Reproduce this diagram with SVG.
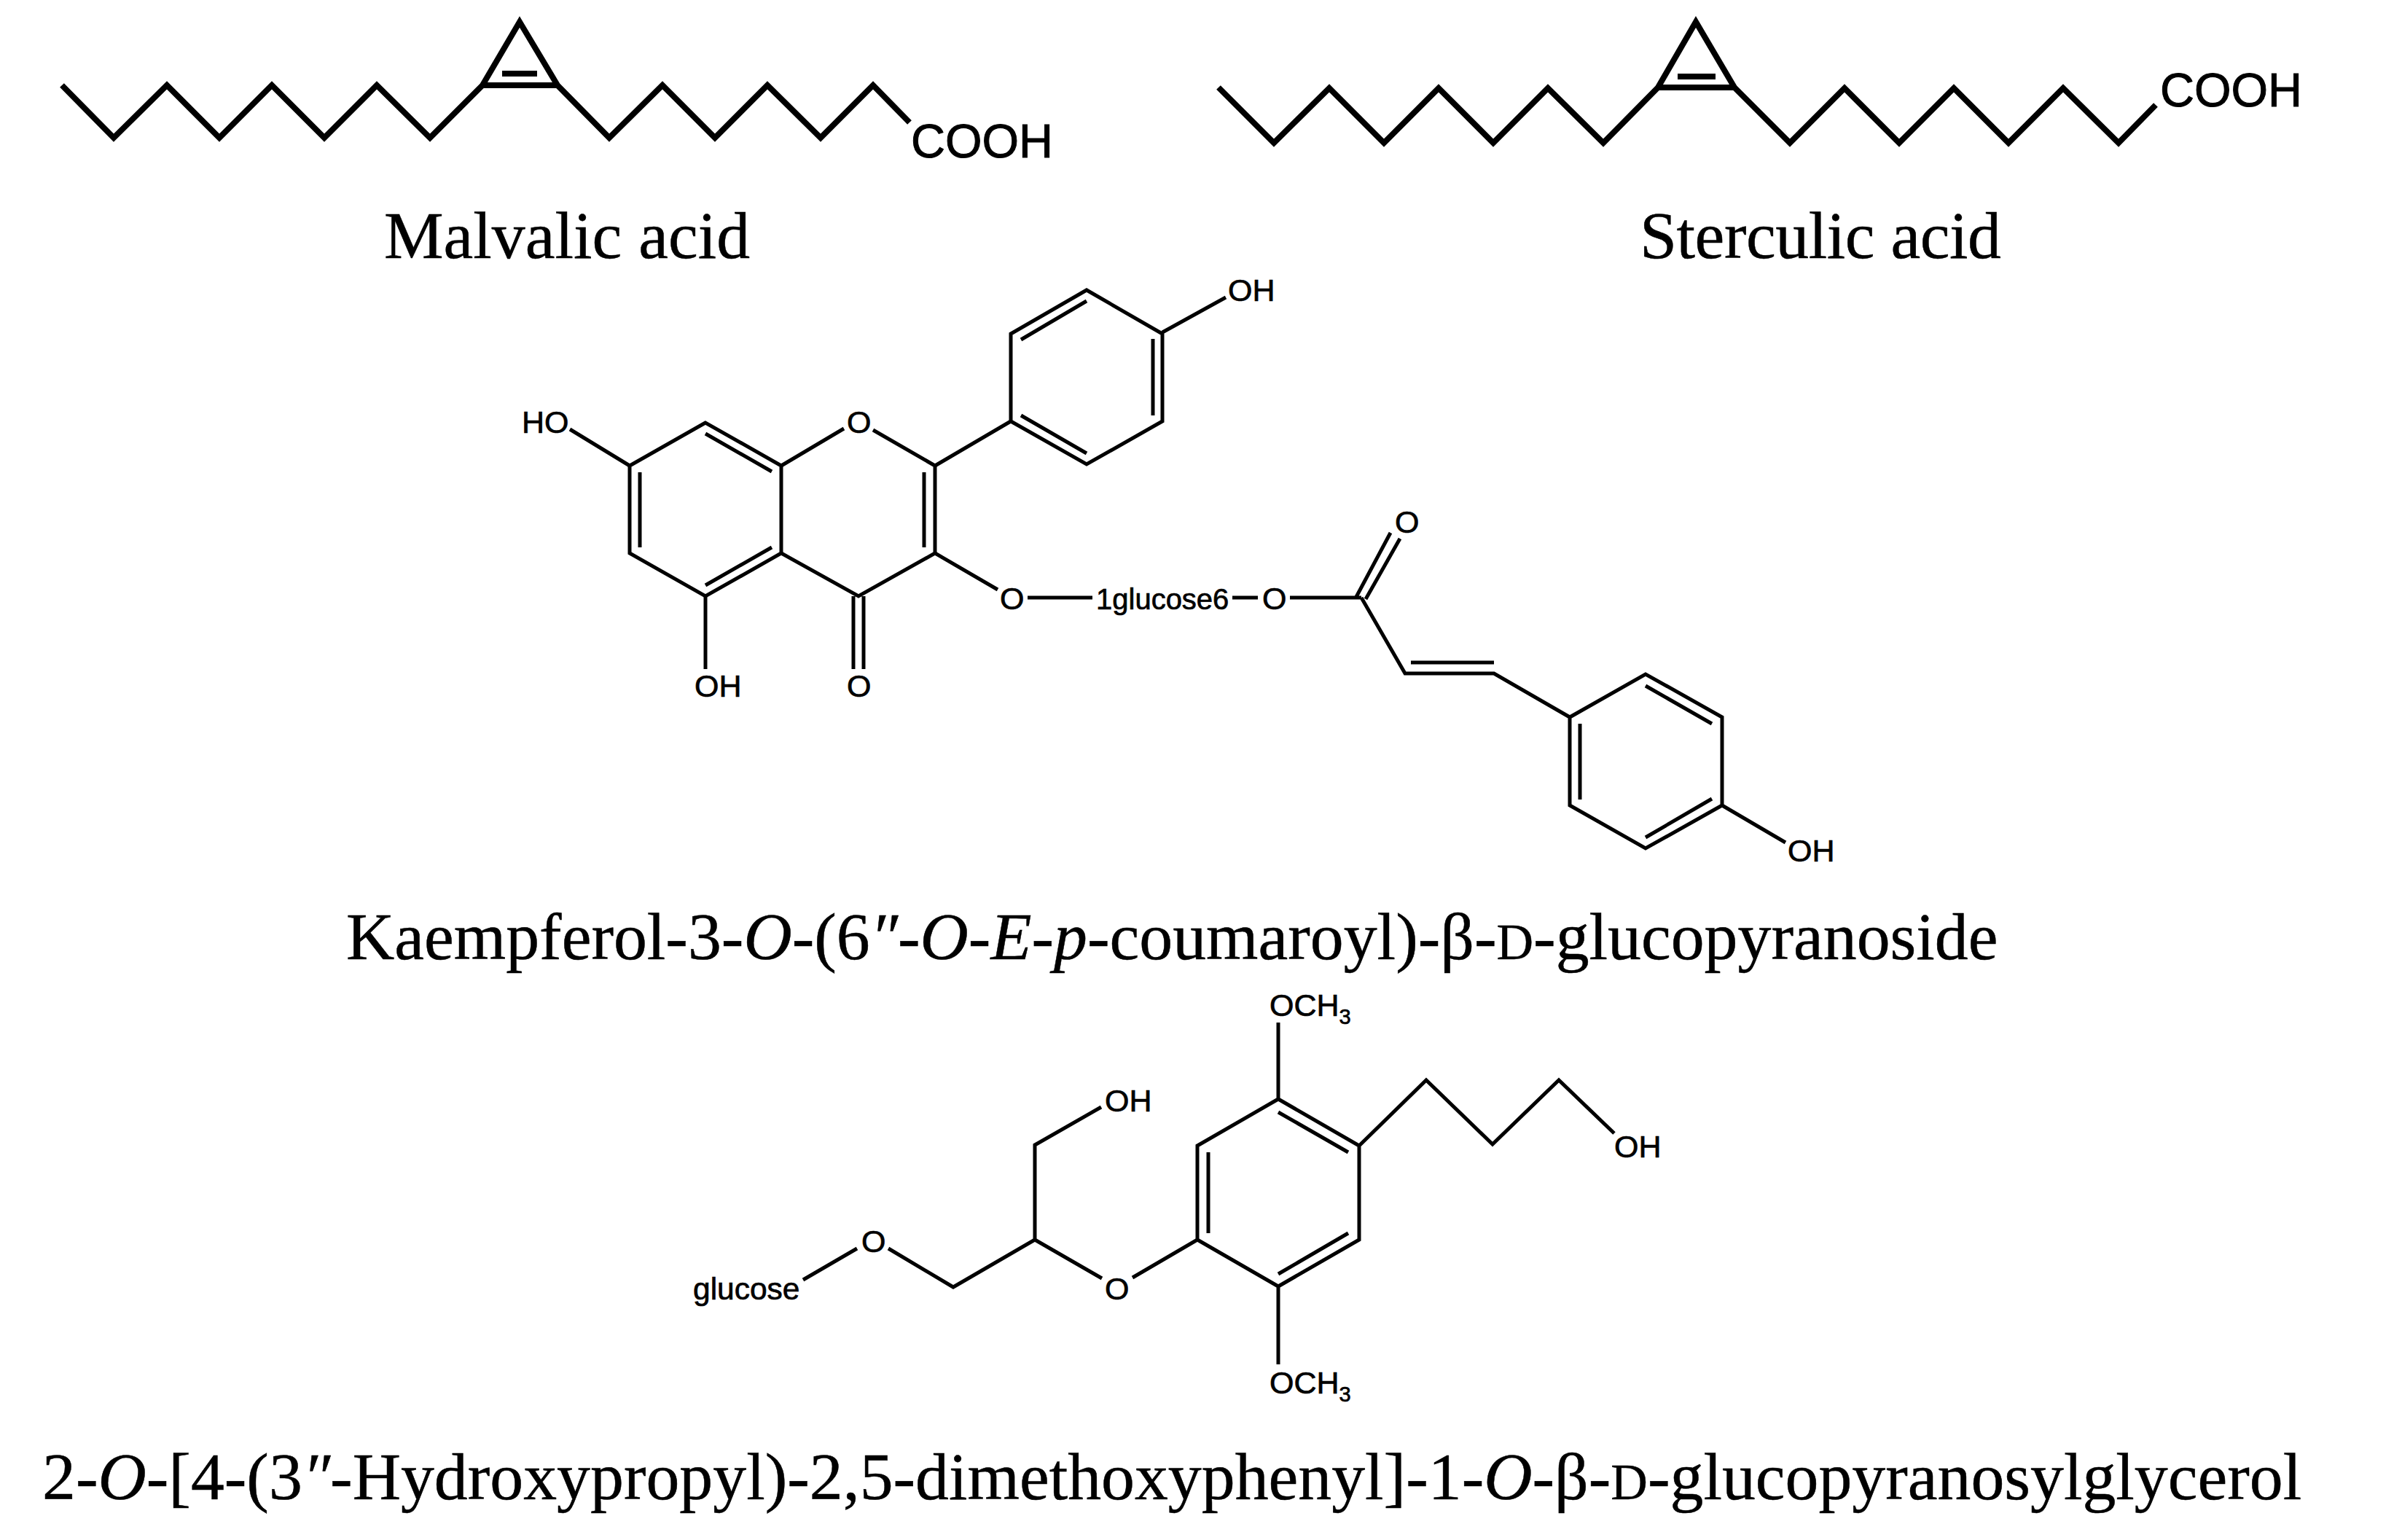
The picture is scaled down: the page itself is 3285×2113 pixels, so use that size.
<svg xmlns="http://www.w3.org/2000/svg" width="3285" height="2113" viewBox="0 0 3285 2113">
<style>
.b{fill:none;stroke:#000;stroke-width:5;stroke-linejoin:miter;stroke-miterlimit:10}
.t{fill:none;stroke:#000;stroke-width:8;stroke-linejoin:miter;stroke-miterlimit:10}
.a{font-family:"Liberation Sans",Arial,sans-serif;font-size:43px;fill:#000;stroke:#000;stroke-width:.7}
.c{font-family:"Liberation Sans",Arial,sans-serif;font-size:65px;fill:#000;stroke:#000;stroke-width:1}
.s{font-family:"Liberation Sans",Arial,sans-serif;font-size:29px;fill:#000}
.n{font-family:"Liberation Serif","Times New Roman",serif;font-size:91.8px;fill:#000;stroke:#000;stroke-width:.5}
.i{font-style:italic}
.d{font-size:70px}
</style>
<rect width="3285" height="2113" fill="#fff"/>
<g id="malvalic-acid">
<path class="t" d="M85 117L156 189L229 117L301 189L373 117L445 189L517 117L590 189L662 117L713 30L765 117L836 189L909 117L981 189L1053 117L1126 189L1198 117L1248 168"/>
<path class="t" d="M662 117H765M689 101H737"/>
<text class="c" x="1250" y="216">COOH</text>
<text class="n" x="527" y="354">Malvalic acid</text>
</g>
<g id="sterculic-acid">
<path class="t" d="M1672 120L1748 196L1824 121L1899 196L1974 121L2049 196L2124 121L2200 196L2275 120L2327 30L2380 120L2456 196L2531 121L2606 196L2681 121L2756 196L2831 121L2907 196L2958 144"/>
<path class="t" d="M2275 120H2380M2302 105H2354"/>
<text class="c" x="2964" y="146">COOH</text>
<text class="n" x="2250" y="354" textLength="496">Sterculic acid</text>
</g>
<g id="kaempferol-glycoside">
<g id="connectors-kaempferol">
<path class="b" d="M968 580L864 639V759L968 818L1072 759V639ZM968 595L1059 647M878 648V751M968 803L1059 751"/>
<path class="b" d="M782 589L864 639M1072 639L1158 588M1198 590L1283 639V759L1178 818L1072 759M1268 648V751M1171 818V918M1185 818V918M968 818V918"/>
<path class="b" d="M1283 639L1387 578V458L1491 398L1595 458V578L1491 637L1387 578M1401 466L1491 413M1582 465V570M1401 570L1491 622M1595 456L1682 408"/>
<path class="b" d="M1283 759L1369 809M1410 820H1499M1691 820H1726M1770 820H1868M1861 819L1908 731M1874 822L1921 739M1868 820L1928 924H2050L2154 984L2258 925L2363 984V1105L2258 1164L2154 1105V984M1936 909H2050M2168 993V1097M2258 941L2349 993M2349 1096L2258 1149M2363 1105L2450 1156"/>
</g>
<text class="a" x="716" y="594">HO</text>
<text class="a" x="1162" y="594">O</text>
<text class="a" x="1685" y="413">OH</text>
<text class="a" x="953" y="956">OH</text>
<text class="a" x="1162" y="956">O</text>
<text class="a" x="1372" y="836">O</text>
<text class="a" x="1504" y="836" style="font-size:40px">1glucose6</text>
<text class="a" x="1732" y="836">O</text>
<text class="a" x="1914" y="731">O</text>
<text class="a" x="2453" y="1182">OH</text>
<text class="n" x="475" y="1316">Kaempferol-3-<tspan class="i">O</tspan>-(6<tspan class="i">″</tspan>-<tspan class="i">O</tspan>-<tspan class="i">E</tspan>-<tspan class="i">p</tspan>-coumaroyl)-β-<tspan class="d">D</tspan>-glucopyranoside</text>
</g>
<g id="dimethoxyphenyl-glycerol">
<g id="connectors-glycerol">
<path class="b" d="M1102 1756L1176 1713M1219 1713L1308 1766L1420 1701V1571L1511 1519M1420 1701L1512 1754M1554 1753L1643 1701V1572L1754 1508L1865 1572V1701L1754 1765L1643 1701M1658 1581V1692M1754 1526L1850 1581M1754 1748L1850 1692M1754 1403V1508M1754 1765V1872M1865 1572L1957 1482L2048 1570L2139 1482L2215 1555"/>
</g>
<text class="a" x="951" y="1783" style="font-size:42.5px">glucose</text>
<text class="a" x="1182" y="1718">O</text>
<text class="a" x="1516" y="1525">OH</text>
<text class="a" x="1516" y="1783">O</text>
<text class="a" x="1742" y="1394">OCH<tspan class="s" dy="11">3</tspan></text>
<text class="a" x="1742" y="1912">OCH<tspan class="s" dy="11">3</tspan></text>
<text class="a" x="2215" y="1588">OH</text>
<text class="n" x="58" y="2057">2-<tspan class="i">O</tspan>-[4-(3<tspan class="i">″</tspan>-Hydroxypropyl)-2,5-dimethoxyphenyl]-1-<tspan class="i">O</tspan>-β-<tspan class="d">D</tspan>-glucopyranosylglycerol</text>
</g>
</svg>
